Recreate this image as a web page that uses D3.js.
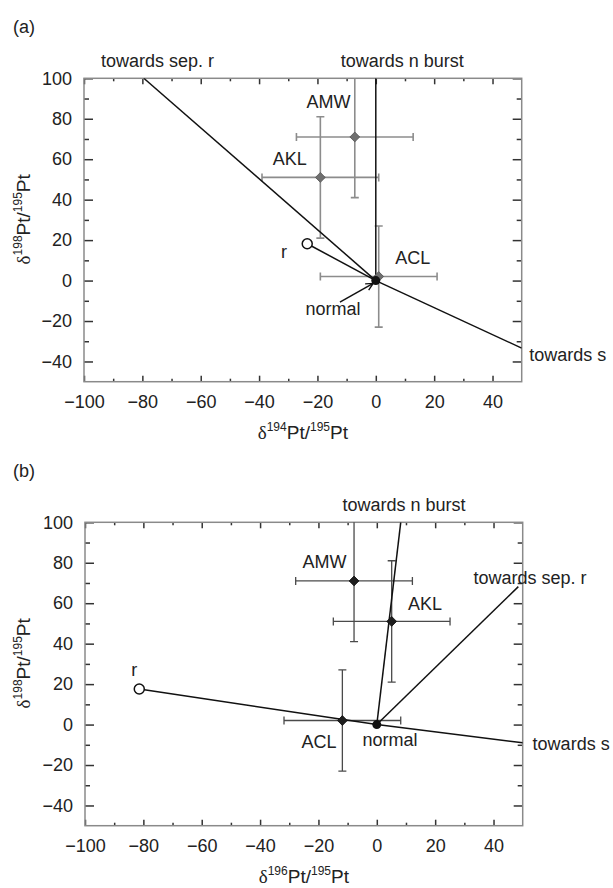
<!DOCTYPE html>
<html>
<head>
<meta charset="utf-8">
<script src="https://cdn.jsdelivr.net/npm/d3@7"></script>
<style>
  body { margin: 0; background: #fff; }
</style>
</head>
<body>
<div id="chart"></div>
<script>
// axis ticks
const xTicks = [-100, -80, -60, -40, -20, 0, 20, 40];
const yTicks = [-40, -20, 0, 20, 40, 60, 80, 100];
const xMinor = [-90, -70, -50, -30, -10, 10, 30];
const yMinor = [-30, -10, 10, 30, 50, 70, 90];

// samples (same order in both panels)
const sampleNames = ["AMW", "AKL", "ACL"];
const xErr = [20, 20, 20];
const yErr = [30, 30, 25];
const xA = [-7.2, -19, 1];
const yA = [71, 51, 2];
const xB = [-7.8, 5.1, -11.8];
const yB = [71, 51, 2];

// end-members and directions
const normalPt = [0, 0];
const rA = [-23.5, 18.2];
const rB = [-81.4, 17.6];
const sEndA = [50, -33.4], sepEndA = [-79.5, 100], nEndA = [0, 100];
const sEndB = [50, -9], sepEndB = [48.5, 68.2], nEndB = [8.2, 100];

// annotation texts and where they sit (data units)
const textsA = ["AMW", "AKL", "ACL", "r", "normal", "towards n burst", "towards sep. r", "towards s"];
const textXA = [-16.2, -29.5, 12.7, -31.5, -14.7, 9.1, -74.8, 52.6];
const textYA = [88.2, 60.1, 11.5, 14.1, -14.1, 108.9, 108.6, -36.8];
const textsB = ["AMW", "AKL", "ACL", "r", "normal", "towards n burst", "towards sep. r", "towards s"];
const textXB = [-17.9, 16.5, -19.8, -83.1, 4.5, 9.3, 52.5, 53.4];
const textYB = [80.5, 59.8, -8.7, 27.3, -7.6, 108.5, 72.8, -9.3];
const arrowFromA = [-12.3, -10.7], arrowToA = [-0.9, -1.4];

const width = 613, height = 888;
const font = "'Liberation Sans', Arial, sans-serif";

const svg = d3.select("#chart").append("svg")
    .attr("width", width)
    .attr("height", height)
    .style("background", "#fff")
    .attr("font-family", font);

const defs = svg.append("defs");
defs.append("marker")
    .attr("id", "arrow")
    .attr("viewBox", "0 0 10 10")
    .attr("refX", 9).attr("refY", 5)
    .attr("markerWidth", 9).attr("markerHeight", 9)
    .attr("markerUnits", "userSpaceOnUse")
    .attr("orient", "auto")
    .append("path")
    .attr("d", "M1,1 L9,5 L1,9")
    .attr("fill", "none")
    .attr("stroke", "#111")
    .attr("stroke-width", 1.5);

const panels = [
    {
        id: "a", tag: "(a)", left: 84, right: 521.7, top: 78.3, bottom: 381.7,
        xs: xA, ys: yA, r: rA, sEnd: sEndA, sepEnd: sepEndA, nEnd: nEndA,
        texts: textsA, tx: textXA, ty: textYA, xsup: "194",
        markFill: "#6f6f6f", markStroke: "#555", errColor: "#8c8c8c", errWidth: 1.6,
        arrow: true
    },
    {
        id: "b", tag: "(b)", left: 85, right: 522.7, top: 522.3, bottom: 825.7,
        xs: xB, ys: yB, r: rB, sEnd: sEndB, sepEnd: sepEndB, nEnd: nEndB,
        texts: textsB, tx: textXB, ty: textYB, xsup: "196",
        markFill: "#1e1e1e", markStroke: "#111", errColor: "#4a4a4a", errWidth: 1.3,
        arrow: false
    }
];

function isoLabel(sel, sup) {
    sel.append("tspan").attr("font-family", "'Liberation Serif', 'DejaVu Serif', serif").text("δ");
    sel.append("tspan").attr("font-size", 12).attr("dy", -8).text(sup);
    sel.append("tspan").attr("dy", 8).text("Pt/");
    sel.append("tspan").attr("font-size", 12).attr("dy", -8).text("195");
    sel.append("tspan").attr("dy", 8).text("Pt");
}

panels.forEach(p => {
    const x = d3.scaleLinear().domain([-100, 50]).range([p.left, p.right]);
    const y = d3.scaleLinear().domain([-50, 100]).range([p.bottom, p.top]);
    const g = svg.append("g");

    g.append("text")
        .attr("x", 13).attr("y", p.top - 45)
        .attr("font-size", 18).attr("fill", "#222")
        .text(p.tag);

    defs.append("clipPath").attr("id", "clip-" + p.id)
        .append("rect")
        .attr("x", p.left).attr("y", p.top)
        .attr("width", p.right - p.left).attr("height", p.bottom - p.top);

    // axes, ticks pointing inward on all four sides
    const styleAxis = a => {
        a.select(".domain").remove();
        a.selectAll(".tick line").attr("stroke", "#333").attr("stroke-width", 1.5);
        a.selectAll(".tick text").attr("font-size", 18).attr("fill", "#222").attr("font-family", font);
    };
    g.append("g").attr("transform", `translate(0,${p.bottom})`)
        .call(d3.axisBottom(x).tickValues(xTicks).tickSize(-6).tickPadding(14).tickFormat(d3.format("d")))
        .call(styleAxis);
    g.append("g").attr("transform", `translate(0,${p.bottom})`)
        .call(d3.axisBottom(x).tickValues(xMinor).tickSize(-3).tickFormat(""))
        .call(styleAxis);
    g.append("g").attr("transform", `translate(0,${p.top})`)
        .call(d3.axisTop(x).tickValues(xTicks).tickSize(-6).tickFormat(""))
        .call(styleAxis);
    g.append("g").attr("transform", `translate(0,${p.top})`)
        .call(d3.axisTop(x).tickValues(xMinor).tickSize(-3).tickFormat(""))
        .call(styleAxis);
    g.append("g").attr("transform", `translate(${p.left},0)`)
        .call(d3.axisLeft(y).tickValues(yTicks).tickSize(-9).tickPadding(12).tickFormat(d3.format("d")))
        .call(styleAxis);
    g.append("g").attr("transform", `translate(${p.left},0)`)
        .call(d3.axisLeft(y).tickValues(yMinor).tickSize(-5).tickFormat(""))
        .call(styleAxis);
    g.append("g").attr("transform", `translate(${p.right},0)`)
        .call(d3.axisRight(y).tickValues(yTicks).tickSize(-9).tickFormat(""))
        .call(styleAxis);
    g.append("g").attr("transform", `translate(${p.right},0)`)
        .call(d3.axisRight(y).tickValues(yMinor).tickSize(-5).tickFormat(""))
        .call(styleAxis);

    g.append("rect")
        .attr("x", p.left).attr("y", p.top)
        .attr("width", p.right - p.left).attr("height", p.bottom - p.top)
        .attr("fill", "none").attr("stroke", "#8a8a8a").attr("stroke-width", 1.5);

    // axis titles
    g.append("text")
        .attr("x", (p.left + p.right) / 2).attr("y", p.bottom + 57)
        .attr("text-anchor", "middle").attr("font-size", 19).attr("fill", "#222")
        .call(isoLabel, p.xsup);
    g.append("text")
        .attr("transform", `translate(30,${p.top + 141}) rotate(-90)`)
        .attr("text-anchor", "middle").attr("font-size", 19).attr("fill", "#222")
        .call(isoLabel, "198");

    const plot = g.append("g").attr("clip-path", `url(#clip-${p.id})`);
    const idx = d3.range(sampleNames.length);

    // error bars
    const eb = plot.append("g").attr("stroke", p.errColor).attr("stroke-width", p.errWidth);
    idx.forEach(i => {
        const cx = p.xs[i], cy = p.ys[i];
        eb.append("line")
            .attr("x1", x(cx - xErr[i])).attr("x2", x(cx + xErr[i]))
            .attr("y1", y(cy)).attr("y2", y(cy));
        eb.append("line")
            .attr("x1", x(cx)).attr("x2", x(cx))
            .attr("y1", y(cy - yErr[i])).attr("y2", y(cy + yErr[i]));
        [cx - xErr[i], cx + xErr[i]].forEach(v => eb.append("line")
            .attr("x1", x(v)).attr("x2", x(v))
            .attr("y1", y(cy) - 4).attr("y2", y(cy) + 4));
        [cy - yErr[i], cy + yErr[i]].forEach(v => eb.append("line")
            .attr("x1", x(cx) - 4).attr("x2", x(cx) + 4)
            .attr("y1", y(v)).attr("y2", y(v)));
    });

    // mixing / direction lines
    const line = d3.line().x(d => x(d[0])).y(d => y(d[1]));
    plot.append("g")
        .attr("fill", "none").attr("stroke", "#111").attr("stroke-width", 1.5)
        .selectAll("path")
        .data([[p.r, normalPt], [normalPt, p.sEnd], [normalPt, p.sepEnd], [normalPt, p.nEnd]])
        .join("path")
        .attr("d", line);

    // sample markers
    plot.append("g").selectAll("path")
        .data(idx)
        .join("path")
        .attr("transform", i => `translate(${x(p.xs[i])},${y(p.ys[i])}) rotate(45)`)
        .attr("d", d3.symbol(d3.symbolSquare, 48))
        .attr("fill", p.markFill)
        .attr("stroke", p.markStroke)
        .attr("stroke-width", 0.8);

    plot.append("circle")
        .attr("cx", x(p.r[0])).attr("cy", y(p.r[1])).attr("r", 5)
        .attr("fill", "#fff").attr("stroke", "#111").attr("stroke-width", 1.5);
    plot.append("circle")
        .attr("cx", x(normalPt[0])).attr("cy", y(normalPt[1])).attr("r", 4.5)
        .attr("fill", "#111");

    if (p.arrow) {
        g.append("line")
            .attr("x1", x(arrowFromA[0])).attr("y1", y(arrowFromA[1]))
            .attr("x2", x(arrowToA[0])).attr("y2", y(arrowToA[1]))
            .attr("stroke", "#111").attr("stroke-width", 1.5)
            .attr("marker-end", "url(#arrow)");
    }

    // annotations
    g.append("g").selectAll("text")
        .data(p.texts)
        .join("text")
        .attr("x", (d, i) => x(p.tx[i]))
        .attr("y", (d, i) => y(p.ty[i]))
        .attr("dy", "0.35em")
        .attr("text-anchor", d => d === "towards s" ? "start" : "middle")
        .attr("font-size", 18)
        .attr("fill", "#222")
        .text(d => d);
});
</script>
</body>
</html>
